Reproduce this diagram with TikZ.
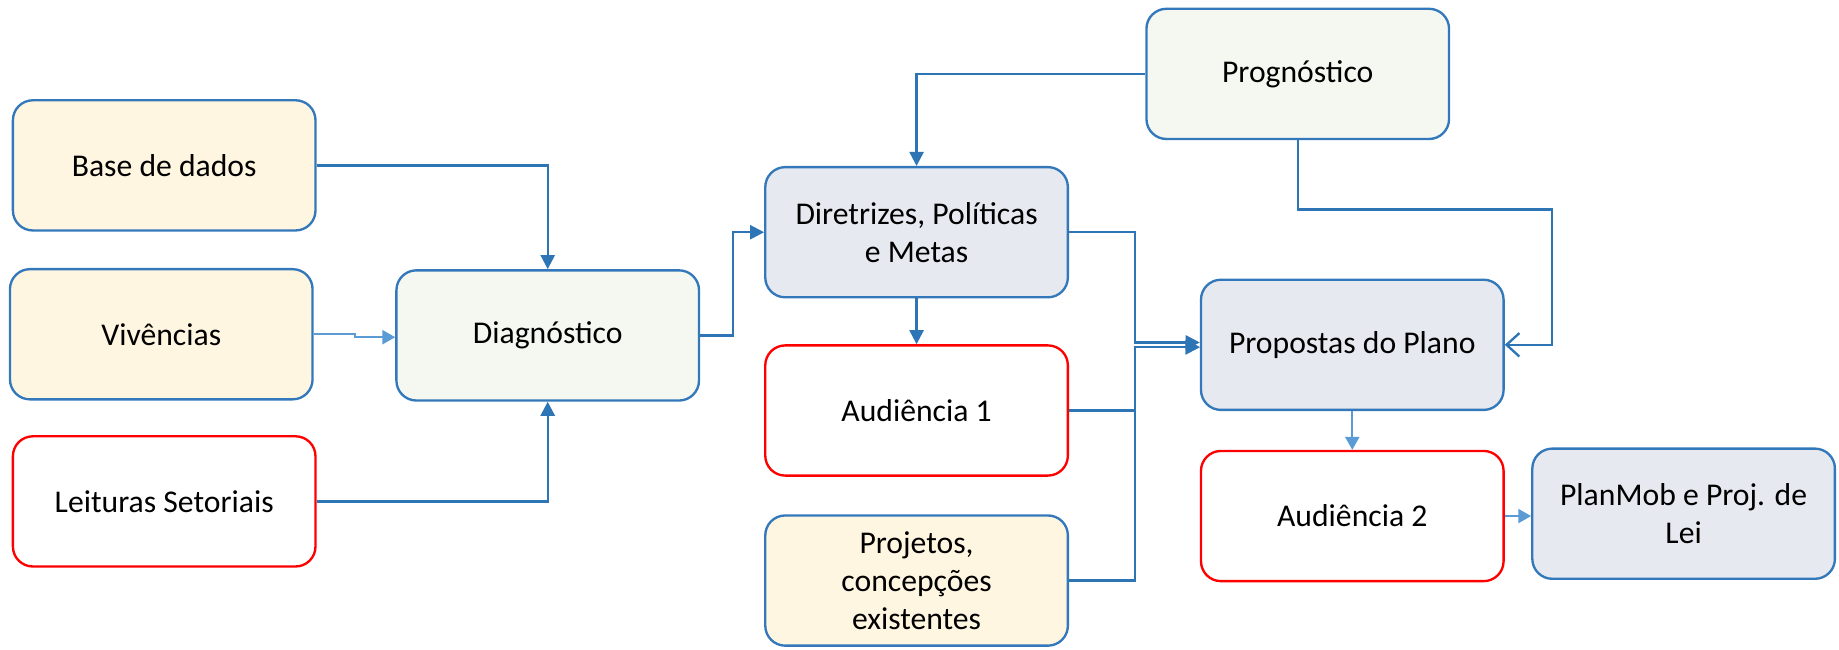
\documentclass[tikz,border=0pt]{standalone}
\usepackage{fontspec}
\setmainfont{Carlito}
\usetikzlibrary{arrows.meta,calc}
\definecolor{bord}{HTML}{3478BC}
\definecolor{lnk}{HTML}{2E75B6}
\definecolor{lite}{HTML}{5B9BD5}
\definecolor{fyel}{HTML}{FFF6E1}
\definecolor{fgrn}{HTML}{F5F8F0}
\definecolor{fgry}{HTML}{E6E9EF}
\definecolor{fred}{HTML}{FF0000}
\tikzset{
  box/.style={rectangle, rounded corners=17pt, line width=2pt, draw=bord,
    minimum width=258pt, minimum height=111pt, align=center, inner sep=0pt,
    font=\fontsize{27pt}{32.5pt}\selectfont},
  yel/.style={box, fill=fyel},
  grn/.style={box, fill=fgrn},
  gry/.style={box, fill=fgry},
  redb/.style={box, draw=fred, fill=white},
  conn/.style={draw=lnk, line width=2pt, -{Triangle[length=12pt,width=12pt]}},
  litec/.style={draw=lite, line width=1.8pt, -{Triangle[length=11pt,width=12pt]}},
  barb/.style={draw=lnk, line width=2pt, -{Straight Barb[length=11pt,width=20pt,line width=2pt]}},
}
\begin{document}
\begin{tikzpicture}[x=1pt,y=-1pt]
\useasboundingbox (0,0) rectangle (1568,554);
\node[yel]  (base) at (140,141)   {Base de dados};
\node[yel]  (viv)  at (137.5,285) {Vivências};
\node[redb] (leit) at (140,427.5) {Leituras Setoriais};
\node[grn]  (diag) at (467,286)   {Diagnóstico};
\node[gry]  (dir)  at (781.5,198) {Diretrizes, Políticas\\e Metas};
\node[redb] (aud1) at (781.5,350) {Audiência 1};
\node[yel]  (proj) at (781.5,495) {Projetos,\\concepções\\existentes};
\node[grn]  (prog) at (1106.5,63) {Prognóstico};
\node[gry]  (prop) at (1153,294)  {Propostas do Plano};
\node[redb] (aud2) at (1153,440)  {Audiência 2};
\node[gry]  (plan) at (1435.5,438){PlanMob e Proj. de\\Lei};

\draw[conn] (base.east) -| (diag.north);
\draw[conn] (leit.east) -| (diag.south);
\draw[litec] (viv.east) -- ++(35,0) -- ++(0,2.5) -- ($(diag.west)+(0,1.5)$);
\draw[conn] (diag.east) -- ++(28,0) |- (dir.west);
\draw[conn] (prog.west) -| (dir.north);
\draw[conn] (dir.south) -- (aud1.north);
\draw[conn] (dir.east) -- ++(56,0) |- ($(prop.west)+(0,-2)$);
\draw[conn] (aud1.east) -- ++(56,0) |- ($(prop.west)+(0,2)$);
\draw[conn] (proj.east) -- ++(56,0) |- ($(prop.west)+(0,2)$);
\draw[barb] (prog.south) -- ++(0,59) -- ++(217,0) |- (prop.east);
\draw[litec] (prop.south) -- (aud2.north);
\draw[litec] (aud2.east) -- (aud2.east -| plan.west);
\end{tikzpicture}
\end{document}
